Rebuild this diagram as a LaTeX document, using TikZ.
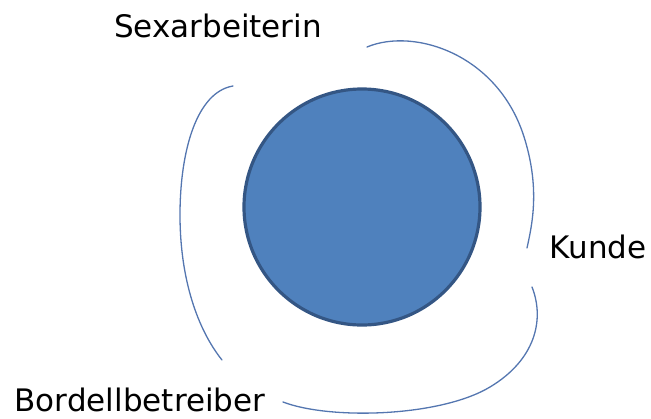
\documentclass[tikz,border=0pt]{standalone}
\usepackage{fontspec}
\setmainfont{DejaVu Sans}
\usepackage{tikz}
\usetikzlibrary{positioning}

\definecolor{kernfill}{RGB}{79,129,189}
\definecolor{kernline}{RGB}{52,86,132}
\definecolor{bogen}{RGB}{84,118,176}

\begin{document}
\begin{tikzpicture}[
  x=1pt, y=-1pt,
  kern/.style={circle, draw=kernline, fill=kernfill, line width=3.2pt,
    minimum size=236pt, inner sep=0pt},
  rolle/.style={font=\fontsize{31}{36}\selectfont, text=black, anchor=base,
    inner sep=0pt},
  bogenlinie/.style={draw=bogen, line width=1.3pt, line cap=round},
]
\useasboundingbox (0,0) rectangle (651,418);

%── Kern ──────────────────────────────────────────────────────────────────────

\node[kern] (mitte) at (362,207) {};

%── Beteiligte ────────────────────────────────────────────────────────────────

\node[rolle] (sex)     at (218,37)  {Sexarbeiterin};
\node[rolle] (kunde)   at (598,258) {Kunde};
\node[rolle] (bordell) at (140,411) {Bordellbetreiber};

%── Bögen um den Kern ─────────────────────────────────────────────────────────

% oben rechts, von Sexarbeiterin zu Kunde
\draw[bogenlinie] (367,47) .. controls (415,27) and (500,55) .. (525,140)
  .. controls (540,190) and (532,225) .. (527,248);

% unten rechts, von Kunde zu Bordellbetreiber
\draw[bogenlinie] (532,287) .. controls (545,320) and (535,360) .. (490,387)
  .. controls (440,417) and (330,420) .. (283,402);

% links
\draw[bogenlinie] (233,86) .. controls (197,92) and (180,150) .. (180,215)
  .. controls (180,280) and (198,330) .. (222,360);

\end{tikzpicture}
\end{document}
